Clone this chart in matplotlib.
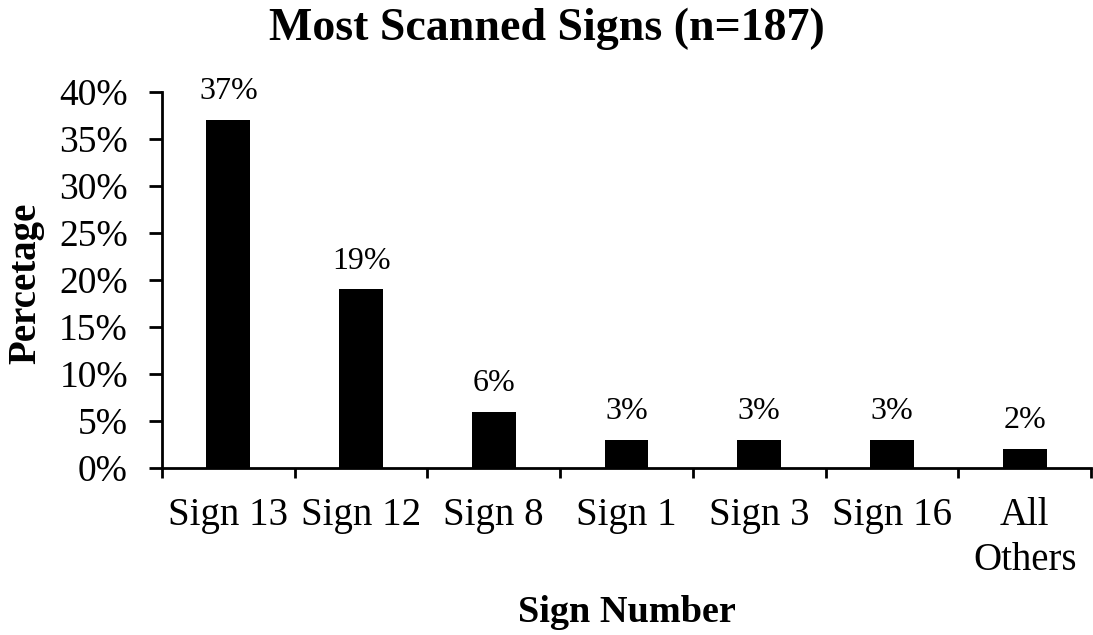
import matplotlib
matplotlib.use('Agg')
import matplotlib.pyplot as plt
import numpy as np

categories = ["Sign 13", "Sign 12", "Sign 8", "Sign 1", "Sign 3", "Sign 16", "All\nOthers"]
percent = [37, 19, 6, 3, 3, 3, 2]
bar_labels = ["37%", "19%", "6%", "3%", "3%", "3%", "2%"]

plt.rcParams['font.family'] = ['Liberation Serif', 'DejaVu Serif']

fig = plt.figure(figsize=(10.93, 6.35), dpi=100)
ax = fig.add_axes([0.1482, 0.263, 0.850, 0.592])

x = np.arange(len(categories))
bars = ax.bar(x, percent, width=0.33, color='black')
for b, lab in zip(bars, bar_labels):
    ax.annotate(lab, (b.get_x() + b.get_width() / 2, b.get_height()),
                xytext=(0, 10), textcoords='offset points',
                ha='center', va='bottom', fontsize=23)

ax.set_xlim(-0.5, len(categories) - 0.5)
ax.set_ylim(0, 40)
ax.set_yticks(range(0, 41, 5))
ax.set_yticklabels([f"{v}%" for v in range(0, 41, 5)], fontsize=27)

# category labels centred, ticks between categories
ax.set_xticks(x)
ax.set_xticklabels(categories, fontsize=28, linespacing=1.27, va='top')
ax.tick_params(axis='x', which='major', length=0, pad=21)
ax.set_xticks(np.arange(-0.5, len(categories), 1), minor=True)
ax.tick_params(axis='x', which='minor', length=7.5, width=2, direction='out')
ax.tick_params(axis='y', length=9.5, width=2, direction='out', pad=15)

for s in ['top', 'right']:
    ax.spines[s].set_visible(False)
for s in ['left', 'bottom']:
    ax.spines[s].set_linewidth(2)

fig.text(0.5, 1 - 29 / 635, "Most Scanned Signs (n=187)", fontsize=33,
         fontweight='bold', ha='center', va='center')
ax.set_xlabel("Sign Number", fontsize=27.5, fontweight='bold', labelpad=12)
fig.text(26 / 1093, 1 - 283 / 635, "Percetage", fontsize=28, fontweight='bold',
         rotation=90, ha='center', va='center')

fig.savefig("out.png", dpi=100, facecolor='white')
